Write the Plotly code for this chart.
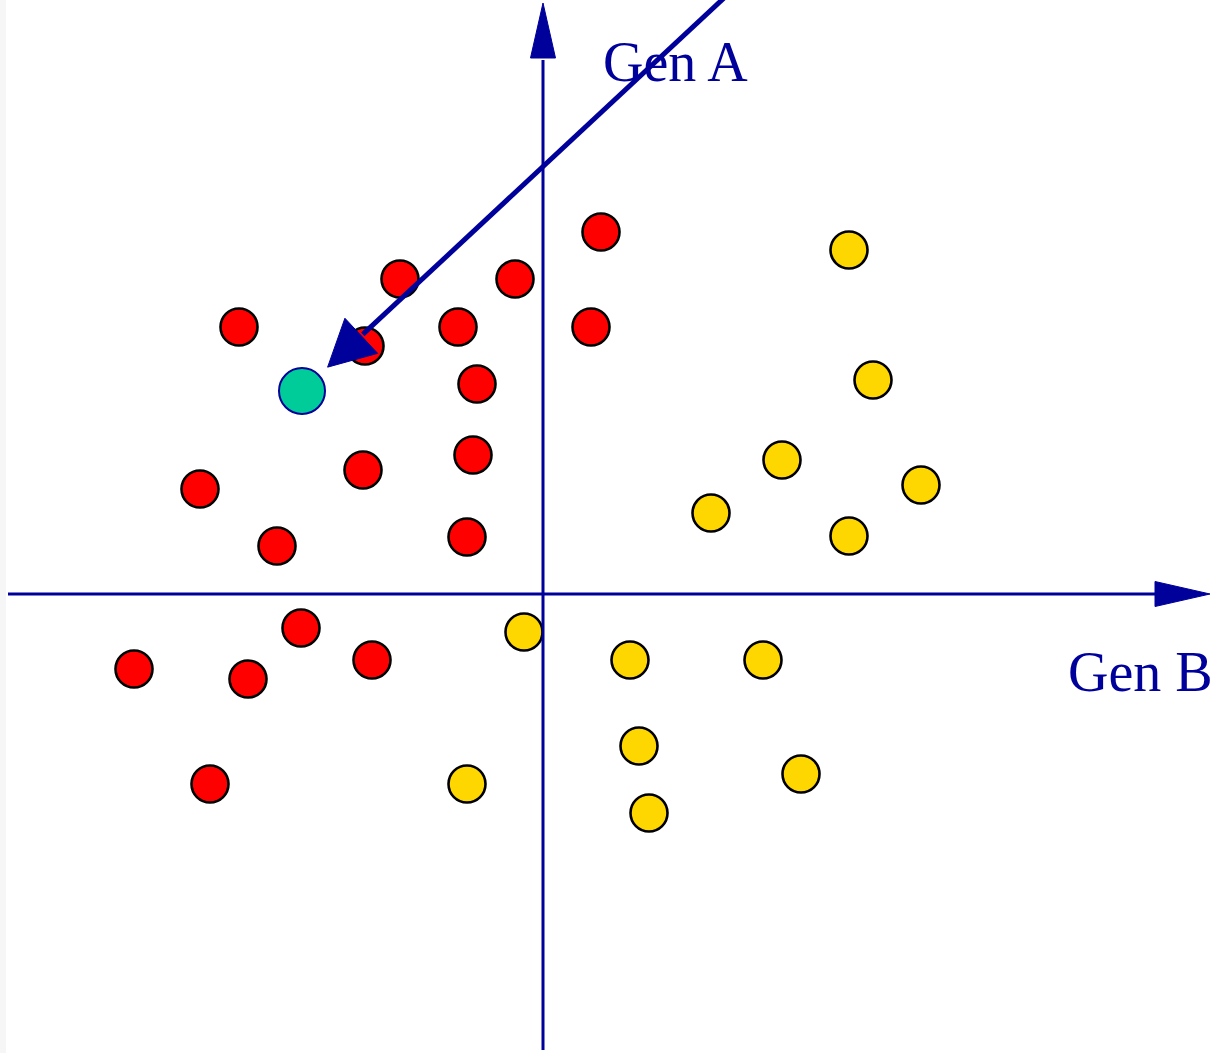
import numpy as np
import plotly.graph_objects as go

# Expression of Gen B (horizontal) and Gen A (vertical) for each sample
red_gen_b = [58, -143, -28, -304, -178, -85, 48, -66, -70, -180, -343, -266, -76, -242, -409, -295, -171, -333]
red_gen_a = [362, 315, 315, 267, 248, 267, 267, 210, 139, 124, 105, 48, 57, -34, -75, -85, -66, -190]

yellow_gen_b = [306, 330, 239, 378, 168, 306, -19, 87, 220, 96, 258, -76, 106]
yellow_gen_a = [344, 214, 134, 109, 81, 58, -38, -66, -66, -152, -180, -190, -219]

# Unclassified query sample
query_gen_b = [-241]
query_gen_a = [203]

axis_labels = ["Gen B", "Gen A"]

NAVY = "#00009a"
X_RANGE = [-543, 674]
Y_RANGE = [-459, 594]

fig = go.Figure()

fig.add_trace(go.Scatter(
    x=red_gen_b, y=red_gen_a, mode="markers",
    marker=dict(size=37, color="#ff0000", line=dict(color="#000000", width=2.6)),
    showlegend=False, hoverinfo="skip",
))
fig.add_trace(go.Scatter(
    x=yellow_gen_b, y=yellow_gen_a, mode="markers",
    marker=dict(size=37, color="#ffd700", line=dict(color="#000000", width=2.6)),
    showlegend=False, hoverinfo="skip",
))
fig.add_trace(go.Scatter(
    x=query_gen_b, y=query_gen_a, mode="markers",
    marker=dict(size=46, color="#00cc99", line=dict(color=NAVY, width=2)),
    showlegend=False, hoverinfo="skip",
))


def triangle(tip, direction, length, half_width):
    d = np.asarray(direction, float)
    d = d / np.linalg.norm(d)
    n = np.array([-d[1], d[0]])
    tip = np.asarray(tip, float)
    base = tip - d * length
    p1 = base + n * half_width
    p2 = base - n * half_width
    return (f"M {tip[0]:.2f},{tip[1]:.2f} L {p1[0]:.2f},{p1[1]:.2f} "
            f"L {p2[0]:.2f},{p2[1]:.2f} Z"), base


shapes = []

# Horizontal axis (Gen B) with arrowhead
h_path, h_base = triangle((X_RANGE[1] - 7, 0), (1, 0), 55, 12.5)
shapes.append(dict(type="line", x0=X_RANGE[0] + 8, y0=0, x1=h_base[0] + 2, y1=0,
                   line=dict(color=NAVY, width=3), layer="above"))
shapes.append(dict(type="path", path=h_path, fillcolor=NAVY,
                   line=dict(color=NAVY, width=1), layer="above"))

# Vertical axis (Gen A) with arrowhead
v_path, v_base = triangle((0, Y_RANGE[1] - 3), (0, 1), 55, 12.5)
shapes.append(dict(type="line", x0=0, y0=Y_RANGE[0] + 3, x1=0, y1=v_base[1] - 2,
                   line=dict(color=NAVY, width=3), layer="above"))
shapes.append(dict(type="path", path=v_path, fillcolor=NAVY,
                   line=dict(color=NAVY, width=1), layer="above"))

# Arrow pointing at the query sample
arrow_dir = np.array([-393.0, -366.0])
arrow_dir /= np.linalg.norm(arrow_dir)
q = np.array([query_gen_b[0], query_gen_a[0]], float)
tip = q - arrow_dir * 35
d_path, d_base = triangle(tip, arrow_dir, 46, 24)
start = tip - arrow_dir * 650
shapes.append(dict(type="line", x0=start[0], y0=start[1], x1=d_base[0] - arrow_dir[0] * 2,
                   y1=d_base[1] - arrow_dir[1] * 2,
                   line=dict(color=NAVY, width=5), layer="above"))
shapes.append(dict(type="path", path=d_path, fillcolor=NAVY,
                   line=dict(color=NAVY, width=1), layer="above"))

# Thin grey strip along the left edge
shapes.append(dict(type="rect", xref="paper", yref="paper", x0=0, x1=6 / 1217, y0=0, y1=1,
                   fillcolor="#f6f6f6", line=dict(width=0), layer="below"))

fig.update_layout(shapes=shapes)

label_font = dict(family="Liberation Serif, Times New Roman, serif", size=56, color=NAVY)
fig.add_annotation(x=597, y=-78, text=axis_labels[0], showarrow=False,
                   xanchor="center", yanchor="middle", font=label_font)
fig.add_annotation(x=132, y=532, text=axis_labels[1], showarrow=False,
                   xanchor="center", yanchor="middle", font=label_font)

fig.update_xaxes(range=X_RANGE, visible=False, fixedrange=True)
fig.update_yaxes(range=Y_RANGE, visible=False, fixedrange=True)
fig.update_layout(
    width=1217, height=1053, autosize=False,
    margin=dict(l=0, r=0, t=0, b=0, pad=0),
    paper_bgcolor="#ffffff", plot_bgcolor="#ffffff",
)

fig.write_html("out.html", config={"displayModeBar": False})
